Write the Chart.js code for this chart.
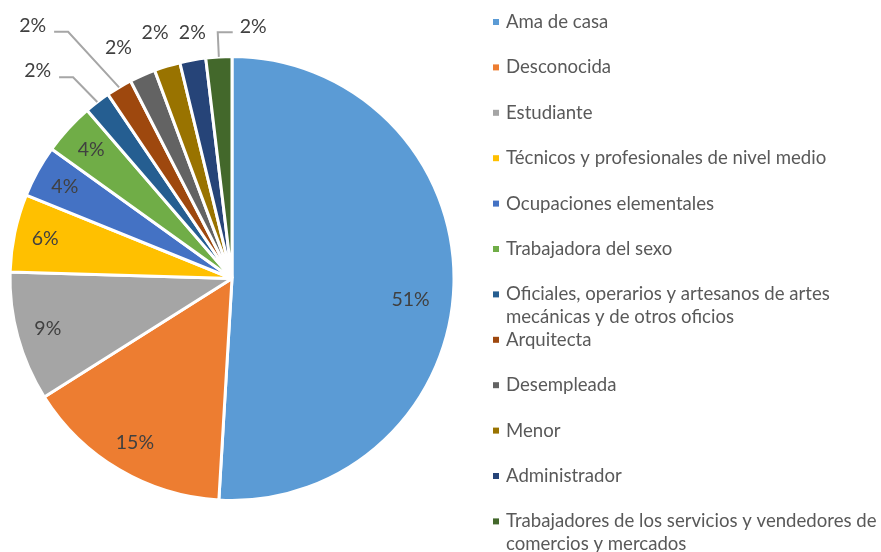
<!DOCTYPE html>
<html>
<head>
<meta charset="utf-8">
<script src="https://cdn.jsdelivr.net/npm/chart.js@4"></script>
<style>
    html, body { margin: 0; padding: 0; background: #fff; }
    #wrap { width: 881px; height: 552px; }
</style>
</head>
<body>
<div id="wrap"><canvas id="ocupacionChart" width="881" height="552"></canvas></div>
<script>
// Ocupación - counts (n = 53), shown as percentages
const categories = [
    'Ama de casa',
    'Desconocida',
    'Estudiante',
    'Técnicos y profesionales de nivel medio',
    'Ocupaciones elementales',
    'Trabajadora del sexo',
    ['Oficiales, operarios y artesanos de artes', 'mecánicas y de otros oficios'],
    'Arquitecta',
    'Desempleada',
    'Menor',
    'Administrador',
    ['Trabajadores de los servicios y vendedores de', 'comercios y mercados'],
];
const counts = [27, 8, 5, 3, 2, 2, 1, 1, 1, 1, 1, 1];
const sliceColors = [
    '#5B9BD5', '#ED7D31', '#A5A5A5', '#FFC000', '#4472C4', '#70AD47',
    '#255E91', '#9E480E', '#636363', '#997300', '#264478', '#43682B',
];

// where each percentage label sits: radius as fraction of the pie radius, angle shift in degrees
const labelPlacement = [
    { r: 0.81, da: 5 },
    { r: 0.86, da: 0 },
    { r: 0.86, da: 0 },
    { r: 0.86, da: 0 },
    { r: 0.86, da: 0 },
    { r: 0.86, da: 0 },
    { r: 1.28, da: -5.8, leader: true },
    { r: 1.45, da: -7.7, leader: true },
    { r: 1.16, da: -2.4 },
    { r: 1.16, da: -0.4 },
    { r: 1.12, da: 1 },
    { r: 1.14, da: 8.2, leader: true },
];

const FONT = 'Lato, "Open Sans", sans-serif';

const pieLabels = {
    id: 'pieLabels',
    afterDatasetsDraw(chart) {
        const ctx = chart.ctx;
        const meta = chart.getDatasetMeta(0);
        const total = counts.reduce((a, b) => a + b, 0);
        ctx.save();
        ctx.font = '19.5px ' + FONT;
        ctx.textAlign = 'center';
        ctx.textBaseline = 'middle';
        meta.data.forEach((arc, i) => {
            const { x, y, startAngle, endAngle, outerRadius } = arc.getProps(['x', 'y', 'startAngle', 'endAngle', 'outerRadius'], true);
            const mid = (startAngle + endAngle) / 2;
            const place = labelPlacement[i];
            const a = mid + place.da * Math.PI / 180;
            const lx = x + Math.cos(a) * outerRadius * place.r;
            const ly = y + Math.sin(a) * outerRadius * place.r;
            const text = Math.round(counts[i] / total * 100) + '%';

            if (place.leader) {
                const w = ctx.measureText(text).width;
                const px = x + Math.cos(mid) * outerRadius;
                const py = y + Math.sin(mid) * outerRadius;
                const lineY = ly + 6;
                let sx, ex;
                if (lx < px) {
                    sx = lx + w / 2 + 8;
                    ex = sx + 14;
                } else {
                    sx = lx - w / 2 - 7;
                    ex = sx - 15;
                }
                ctx.strokeStyle = '#A6A6A6';
                ctx.lineWidth = 2;
                ctx.beginPath();
                ctx.moveTo(sx, lineY);
                ctx.lineTo(ex, lineY);
                ctx.lineTo(px, py);
                ctx.stroke();
            }
            ctx.fillStyle = '#404040';
            ctx.fillText(text, lx, ly);
        });
        ctx.restore();
    }
};

const sideLegend = {
    id: 'sideLegend',
    afterDraw(chart) {
        const ctx = chart.ctx;
        ctx.save();
        ctx.font = '18.6px ' + FONT;
        ctx.textAlign = 'left';
        ctx.textBaseline = 'middle';
        categories.forEach((label, i) => {
            const y0 = 22 + i * 45.4;
            ctx.fillStyle = sliceColors[i];
            ctx.fillRect(493, y0 - 3, 6, 6);
            ctx.fillStyle = '#595959';
            const lines = Array.isArray(label) ? label : [label];
            lines.forEach((line, j) => ctx.fillText(line, 506, y0 + j * 23));
        });
        ctx.restore();
    }
};

new Chart(document.getElementById('ocupacionChart'), {
    type: 'pie',
    data: {
        labels: categories,
        datasets: [{
            data: counts,
            backgroundColor: sliceColors,
            borderColor: '#ffffff',
            borderWidth: 3,
        }]
    },
    options: {
        responsive: false,
        devicePixelRatio: 1,
        animation: false,
        layout: { padding: { left: 8, top: 55, right: 425, bottom: 50 } },
        plugins: {
            legend: { display: false },
            tooltip: { enabled: false },
        }
    },
    plugins: [pieLabels, sideLegend]
});
</script>
</body>
</html>
